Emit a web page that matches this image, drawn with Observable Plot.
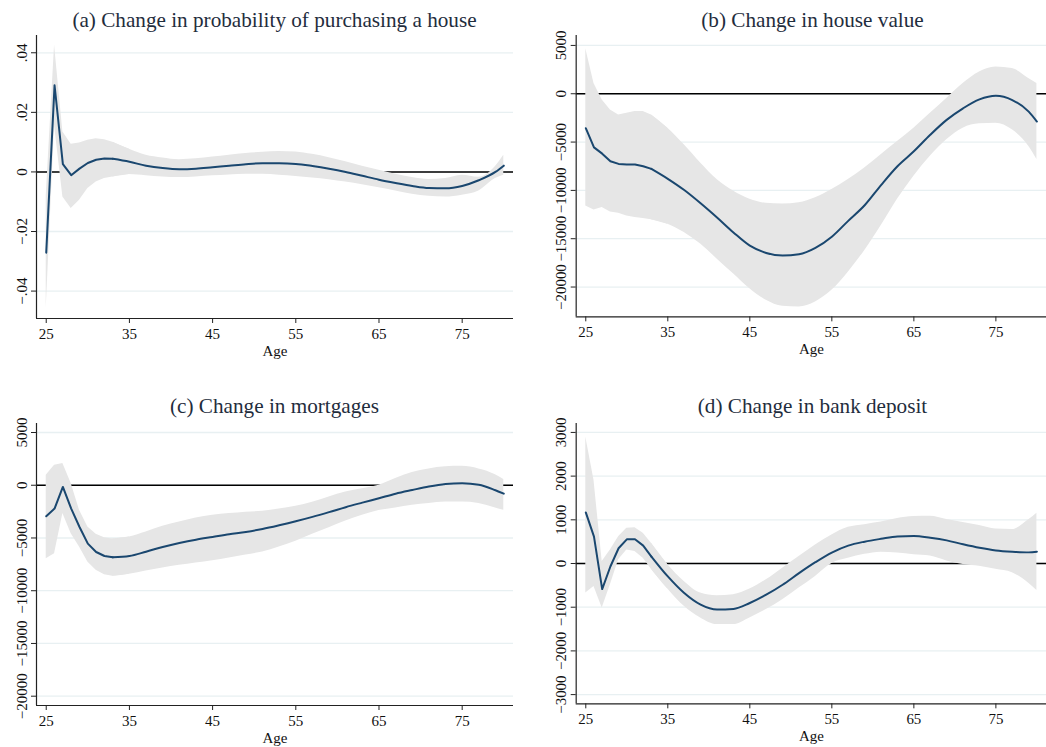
<!DOCTYPE html>
<html><head><meta charset="utf-8">
<script src="https://cdn.jsdelivr.net/npm/d3@7"></script>
<script src="https://cdn.jsdelivr.net/npm/@observablehq/plot@0.6"></script>
<style>
body{margin:0;background:#fff;overflow:hidden;}
#wrap{position:relative;width:1046px;height:747px;overflow:hidden;background:#fff;}
.panel{position:absolute;}
.title{position:absolute;font-family:"Liberation Serif",serif;font-size:21.2px;line-height:24px;color:#1f2d3d;text-align:center;white-space:nowrap;width:600px;}
svg{display:block}
svg text{font-family:"Liberation Serif",serif !important;}
</style></head><body><div id="wrap"></div>
<script>
const ages = [25,26,27,28,29,30,31,32,33,35,37,39,41,43,45,47,49,51,53,55,57,59,61,63,65,67,69,71,73,75,77,79,80];

const titles = ["(a) Change in probability of purchasing a house","(b) Change in house value","(c) Change in mortgages","(d) Change in bank deposit"];

const aMid = [-0.0271,0.0291,0.0026,-0.0011,0.0011,0.003,0.0041,0.0045,0.0044,0.0034,0.0021,0.0013,0.0009,0.0011,0.0016,0.0021,0.0026,0.0029,0.0029,0.0027,0.002,0.0011,0,-0.0013,-0.0026,-0.0037,-0.0047,-0.0054,-0.0055,-0.0047,-0.0028,0,0.0021];
const aUp  = [-0.008,0.0425,0.0134,0.0093,0.0097,0.0106,0.0111,0.0108,0.010,0.0076,0.0056,0.0047,0.0041,0.0044,0.005,0.0056,0.0062,0.0066,0.0069,0.0067,0.0059,0.0048,0.0034,0.0019,0.0006,-0.0008,-0.0019,-0.0025,-0.0022,-0.0011,-0.0018,0.0018,0.0056];
const aLo  = [-0.0458,0.0157,-0.0084,-0.0123,-0.0095,-0.0056,-0.0034,-0.0022,-0.0017,-0.0009,-0.0013,-0.0017,-0.0019,-0.0017,-0.0013,-0.001,-0.0008,-0.0008,-0.0011,-0.0015,-0.002,-0.0026,-0.0034,-0.0043,-0.0053,-0.0064,-0.0075,-0.0082,-0.0084,-0.0078,-0.0064,-0.0022,-0.0011];

const bMid = [-3562,-5548,-6199,-6986,-7260,-7329,-7329,-7500,-7774,-8801,-9966,-11336,-12808,-14349,-15719,-16473,-16747,-16610,-15950,-14795,-13151,-11541,-9452,-7500,-5959,-4247,-2705,-1507,-582,-205,-651,-1849,-2877];
const bUp  = [4658,1062,-651,-1678,-2192,-2021,-1849,-1849,-2192,-3562,-5274,-7158,-8870,-10068,-10925,-11336,-11404,-11267,-10753,-9897,-8870,-7671,-6301,-4932,-3562,-2021,-479,1062,2260,2774,2603,1575,1062];
const bLo  = [-11610,-12021,-11781,-12226,-12363,-12637,-12808,-12911,-13048,-13493,-14349,-15548,-17089,-18630,-20171,-21370,-21986,-22055,-21541,-20342,-18459,-16233,-13664,-10925,-8527,-6473,-4760,-3562,-3116,-3048,-3733,-5445,-6815];

const cMid = [-2943,-2215,-158,-2215,-3956,-5538,-6329,-6709,-6835,-6709,-6297,-5854,-5475,-5158,-4905,-4652,-4430,-4146,-3797,-3418,-3000,-2550,-2080,-1650,-1230,-800,-450,-120,120,200,50,-480,-800];
const cUp  = [949,1899,2057,158,-2373,-3956,-4652,-4968,-5095,-4905,-4430,-3892,-3481,-3101,-2848,-2690,-2563,-2468,-2247,-1994,-1614,-1108,-633,-330,0,650,1200,1550,1750,1790,1550,1000,540];
const cLo  = [-6962,-6487,-2690,-4589,-5854,-7278,-8070,-8481,-8639,-8449,-8133,-7848,-7595,-7373,-7152,-6899,-6614,-6329,-5854,-5316,-4652,-4019,-3400,-2850,-2400,-2150,-1900,-1720,-1600,-1590,-1720,-2150,-2372];

const dMid = [1169,615,-585,-68,349,554,554,410,159,-296,-676,-942,-1055,-1040,-904,-714,-486,-220,30,251,410,500,565,620,630,590,530,440,360,300,270,255,270];
const dUp  = [2893,1906,46,311,615,805,820,691,463,-30,-410,-676,-736,-714,-585,-372,-106,159,425,653,828,890,950,1030,1075,1080,1010,940,870,790,780,1000,1150];
const dLo  = [-676,-524,-1017,-486,84,311,273,121,-129,-585,-980,-1245,-1397,-1397,-1245,-1055,-828,-562,-296,0,120,210,260,240,200,170,60,-20,-60,-130,-210,-450,-615];

const xTicks = [25,35,45,55,65,75];
const aTicks = [-0.04,-0.02,0,0.02,0.04];
const bTicks = [-20000,-15000,-10000,-5000,0,5000];
const cTicks = [-20000,-15000,-10000,-5000,0,5000];
const dTicks = [-3000,-2000,-1000,0,1000,2000,3000];

const xDomain = [23.83, 81.17];

function fmtSmall(d){ if (d === 0) return "0"; return (d < 0 ? "\u2212" : "") + String(Math.abs(d)).replace(/^0/, ""); }
function fmtInt(d){ return d < 0 ? "\u2212" + Math.abs(d) : String(d); }

const wrap = document.getElementById("wrap");

function panel({title, mid, up, lo, yDomain, yTicks, fmt, left, top, width, height, marginLeft, titleCenter, titleTop}) {
  const rows = ages.map((a, i) => ({age: a, mid: mid[i], up: up[i], lo: lo[i]}));
  const early = rows.filter(r => r.age <= 33);
  const earlyArea = rows.filter(r => r.age <= 35);
  const late = rows.filter(r => r.age >= 33);
  const bandFill = "#e6e6e6", lineColor = "#1a476f";
  const chart = Plot.plot({
    width, height, marginLeft, marginRight: 0, marginTop: 5, marginBottom: 42,
    style: {fontFamily: '"Liberation Serif", serif', fontSize: "15px", color: "#111", background: "transparent", overflow: "visible"},
    x: {domain: xDomain},
    y: {domain: yDomain},
    marks: [
      Plot.ruleY(yTicks, {stroke: "#e8f0f2", strokeWidth: 1.3}),
      Plot.ruleY([0], {stroke: "#000", strokeWidth: 1.5}),
      Plot.areaY(earlyArea, {x: "age", y1: "lo", y2: "up", fill: bandFill, curve: "linear"}),
      Plot.areaY(late, {x: "age", y1: "lo", y2: "up", fill: bandFill, curve: "monotone-x"}),
      Plot.lineY(early, {x: "age", y: "mid", stroke: lineColor, strokeWidth: 2, curve: "linear"}),
      Plot.lineY(late, {x: "age", y: "mid", stroke: lineColor, strokeWidth: 2, curve: "monotone-x"}),
      Plot.ruleX([xDomain[0]], {stroke: "#222", strokeWidth: 1.2}),
      Plot.ruleY([yDomain[0]], {stroke: "#222", strokeWidth: 1.2}),
      Plot.axisX({ticks: xTicks, tickSize: 5, tickPadding: 5, label: "Age", labelAnchor: "center", labelOffset: 37, labelArrow: false, stroke: "#222"}),
      Plot.axisY({ticks: yTicks, tickSize: 5, tickPadding: 5, tickRotate: -90, tickFormat: fmt, label: null, stroke: "#222"})
    ]
  });
  const p = document.createElement("div");
  p.className = "panel";
  p.style.left = left + "px";
  p.style.top = top + "px";
  p.appendChild(chart);
  wrap.appendChild(p);
  const t = document.createElement("div");
  t.className = "title";
  t.textContent = title;
  t.style.left = (titleCenter - 300) + "px";
  t.style.top = titleTop + "px";
  wrap.appendChild(t);
}

panel({title: titles[0], mid: aMid, up: aUp, lo: aLo, yDomain: [-0.0492, 0.0458], yTicks: aTicks, fmt: fmtSmall,
  left: 0, top: 30, width: 513, height: 330, marginLeft: 36, titleCenter: 274.5, titleTop: 7.6});
panel({title: titles[1], mid: bMid, up: bUp, lo: bLo, yDomain: [-23086, 6030], yTicks: bTicks, fmt: fmtInt,
  left: 520, top: 30, width: 529, height: 330, marginLeft: 56, titleCenter: 812.5, titleTop: 7.6});
panel({title: titles[2], mid: cMid, up: cUp, lo: cLo, yDomain: [-20882, 5854], yTicks: cTicks, fmt: fmtInt,
  left: 0, top: 418, width: 513, height: 329, marginLeft: 36, titleCenter: 274.5, titleTop: 394.2});
panel({title: titles[3], mid: dMid, up: dUp, lo: dLo, yDomain: [-3212, 3205], yTicks: dTicks, fmt: fmtInt,
  left: 520, top: 418, width: 529, height: 329, marginLeft: 56, titleCenter: 812.5, titleTop: 394.2});
</script>
</body></html>
